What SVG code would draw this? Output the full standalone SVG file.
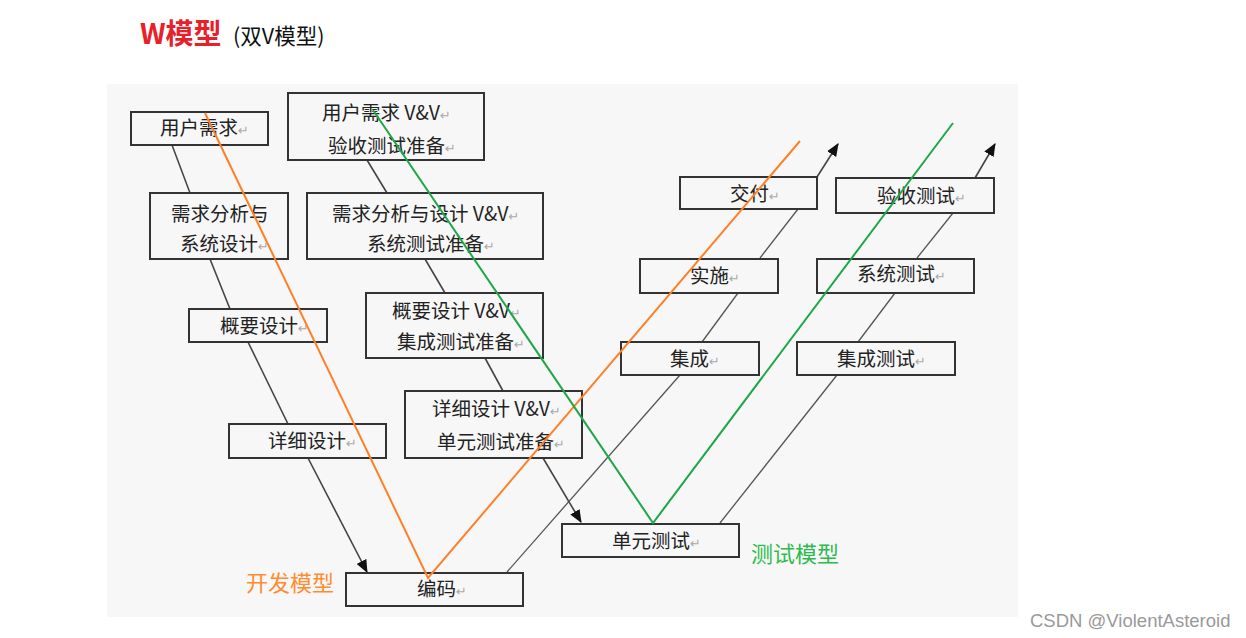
<svg xmlns="http://www.w3.org/2000/svg" width="1246" height="638" viewBox="0 0 1246 638">
<defs>
<style>
.box{fill:#f7f7f7;stroke:#333;stroke-width:2}
.t{font-family:"Noto Sans CJK SC","Noto Sans",sans-serif;font-size:19.5px;fill:#222}
.r{fill:#aaa;font-family:"DejaVu Sans",sans-serif;font-size:13px}
.c{stroke:#444;stroke-width:1.6;fill:none}
.c2{stroke:#555;stroke-width:1.3;fill:none}
</style>
<marker id="ah2" viewBox="0 0 12 10" refX="11" refY="5" markerWidth="13" markerHeight="11" orient="auto" markerUnits="userSpaceOnUse">
<path d="M0,0 L12,5 L0,10 Z" fill="#111"/>
</marker>
</defs>
<rect width="1246" height="638" fill="#fff"/>
<rect x="107" y="84" width="911" height="533" fill="#f7f7f7"/>
<g id="title">
<text x="140" y="44" font-family="'Noto Sans CJK SC',sans-serif" font-size="28" font-weight="bold" fill="#e8202a">W模型</text>
<text x="233" y="44" font-family="'Noto Sans CJK SC',sans-serif" font-size="21.5" fill="#111">(双V模型)</text>
</g>
<g id="connectors">
<line class="c" x1="172" y1="145" x2="190" y2="193"/>
<line class="c" x1="210" y1="259" x2="230" y2="309"/>
<line class="c" x1="248" y1="342" x2="288" y2="424"/>
<line class="c" x1="308" y1="458" x2="367" y2="572" marker-end="url(#ah2)"/>
<line class="c" x1="367" y1="160" x2="387" y2="193"/>
<line class="c" x1="425" y1="259" x2="445" y2="293"/>
<line class="c" x1="485" y1="358" x2="503" y2="391"/>
<line class="c" x1="543" y1="458" x2="581" y2="522" marker-end="url(#ah2)"/>
<line class="c2" x1="507" y1="572" x2="680" y2="375"/>
<line class="c2" x1="702" y1="342" x2="738" y2="293"/>
<line class="c2" x1="760" y1="258" x2="798" y2="209"/>
<line class="c" x1="817" y1="177" x2="838" y2="144" marker-end="url(#ah2)"/>
<line class="c2" x1="720" y1="523" x2="837" y2="375"/>
<line class="c2" x1="858" y1="342" x2="895" y2="293"/>
<line class="c2" x1="917" y1="258" x2="953" y2="213"/>
<line class="c" x1="975" y1="178" x2="995" y2="144" marker-end="url(#ah2)"/>
</g>
<g id="n-yhxq"><rect class="box" x="131" y="112" width="137" height="33"/><text class="t" x="160" y="135">用户需求<tspan class="r">↵</tspan></text></g>
<g id="n-xqfx"><rect class="box" x="150" y="193" width="138" height="66"/><text class="t" x="171" y="221">需求分析与</text><text class="t" x="180" y="251">系统设计<tspan class="r">↵</tspan></text></g>
<g id="n-gysj"><rect class="box" x="189" y="309" width="138" height="33"/><text class="t" x="220" y="333">概要设计<tspan class="r">↵</tspan></text></g>
<g id="n-xxsj"><rect class="box" x="229" y="424" width="157" height="34"/><text class="t" x="268" y="448">详细设计<tspan class="r">↵</tspan></text></g>
<g id="n-bm"><rect class="box" x="346" y="573" width="177" height="33"/><text class="t" x="417" y="596">编码<tspan class="r">↵</tspan></text></g>
<g id="n-ysvv"><rect class="box" x="288" y="93" width="196" height="67"/><text class="t" x="322" y="120">用户需求 V&amp;V<tspan class="r">↵</tspan></text><text class="t" x="328" y="153">验收测试准备<tspan class="r">↵</tspan></text></g>
<g id="n-xtvv"><rect class="box" x="307" y="193" width="236" height="66"/><text class="t" x="332" y="221">需求分析与设计 V&amp;V<tspan class="r">↵</tspan></text><text class="t" x="367" y="251">系统测试准备<tspan class="r">↵</tspan></text></g>
<g id="n-jcvv"><rect class="box" x="366" y="293" width="177" height="65"/><text class="t" x="392" y="318">概要设计 V&amp;V<tspan class="r">↵</tspan></text><text class="t" x="397" y="349">集成测试准备<tspan class="r">↵</tspan></text></g>
<g id="n-dyvv"><rect class="box" x="405" y="391" width="177" height="67"/><text class="t" x="432" y="416">详细设计 V&amp;V<tspan class="r">↵</tspan></text><text class="t" x="437" y="449">单元测试准备<tspan class="r">↵</tspan></text></g>
<g id="n-dycs"><rect class="box" x="562" y="524" width="177" height="33"/><text class="t" x="612" y="548">单元测试<tspan class="r">↵</tspan></text></g>
<g id="n-jc"><rect class="box" x="621" y="342" width="138" height="33"/><text class="t" x="670" y="366">集成<tspan class="r">↵</tspan></text></g>
<g id="n-ss"><rect class="box" x="640" y="259" width="138" height="34"/><text class="t" x="690" y="283">实施<tspan class="r">↵</tspan></text></g>
<g id="n-jf"><rect class="box" x="680" y="177" width="137" height="32"/><text class="t" x="730" y="201">交付<tspan class="r">↵</tspan></text></g>
<g id="n-jccs"><rect class="box" x="797" y="342" width="158" height="33"/><text class="t" x="837" y="366">集成测试<tspan class="r">↵</tspan></text></g>
<g id="n-xtcs"><rect class="box" x="817" y="259" width="157" height="34"/><text class="t" x="857" y="281">系统测试<tspan class="r">↵</tspan></text></g>
<g id="n-yscs"><rect class="box" x="836" y="178" width="158" height="35"/><text class="t" x="877" y="203">验收测试<tspan class="r">↵</tspan></text></g>
<g id="models">
<polyline points="205,113 428,578 800,141" fill="none" stroke="#ff7f27" stroke-width="2"/>
<polyline points="373,110 653,523 953,123" fill="none" stroke="#1fa64a" stroke-width="2"/>
<text x="246" y="591" font-family="'Noto Sans CJK SC',sans-serif" font-size="22" fill="#ff8c2f">开发模型</text>
<text x="751" y="562" font-family="'Noto Sans CJK SC',sans-serif" font-size="22" fill="#2dbb4e">测试模型</text>
</g>
<text x="1030" y="627" font-family="'Liberation Sans',sans-serif" font-size="18.5" fill="#999">CSDN @ViolentAsteroid</text>
</svg>
